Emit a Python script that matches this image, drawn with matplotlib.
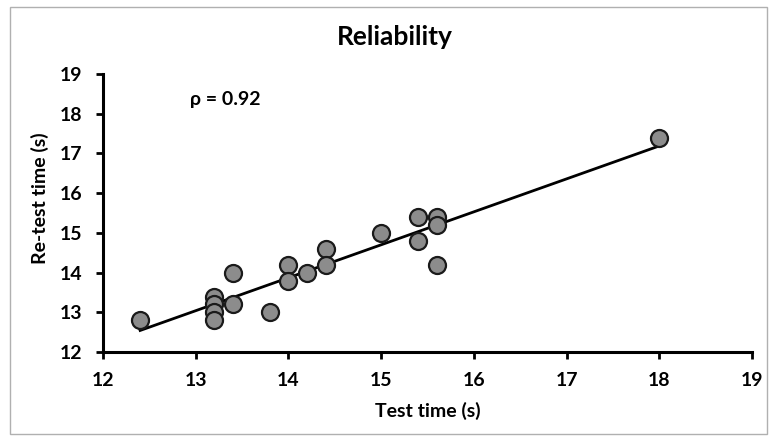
import numpy as np
import matplotlib
matplotlib.use("Agg")
import matplotlib.pyplot as plt
from matplotlib.patches import Rectangle

# test / re-test times (s)
test_time = [12.4, 13.2, 13.2, 13.2, 13.2, 13.4, 13.4, 13.8, 14.0, 14.0,
             14.2, 14.4, 14.4, 15.0, 15.4, 15.4, 15.6, 15.6, 15.6, 18.0]
retest_time = [12.8, 13.4, 13.2, 13.0, 12.8, 14.0, 13.2, 13.0, 14.2, 13.8,
               14.0, 14.6, 14.2, 15.0, 15.4, 14.8, 15.4, 15.2, 14.2, 17.4]
rho_text = "ρ = 0.92"
ticks = [12, 13, 14, 15, 16, 17, 18, 19]

plt.rcParams['font.family'] = ['Lato', 'DejaVu Sans']
plt.rcParams['font.weight'] = 'bold'

fig = plt.figure(figsize=(7.69, 4.38), dpi=100)
ax = fig.add_axes([0.134, 0.196, 0.844, 0.635])

# regression line
x = np.array(test_time)
y = np.array(retest_time)
b, a = np.polyfit(x, y, 1)
xl = np.array([x.min(), x.max()])
ax.plot(xl, a + b * xl, color='black', lw=2, zorder=2)

ax.scatter(x, y, s=150, facecolor='#8c8c8c', edgecolor='#1a1a1a',
           linewidth=1.6, zorder=3)

ax.set_xlim(12, 19)
ax.set_ylim(12, 19)
ax.set_xticks(ticks)
ax.set_yticks(ticks)
ax.tick_params(direction='out', length=5, width=2, labelsize=14)
ax.tick_params(axis='x', pad=9)
ax.tick_params(axis='y', pad=10)
for s in ['top', 'right']:
    ax.spines[s].set_visible(False)
for s in ['left', 'bottom']:
    ax.spines[s].set_linewidth(2.2)
for lab in ax.get_xticklabels() + ax.get_yticklabels():
    lab.set_fontweight('bold')

ax.set_xlabel("Test time (s)", fontsize=14, fontweight='bold')
ax.xaxis.set_label_coords(0.5, -0.18)
ax.set_ylabel("Re-test time (s)", fontsize=14, fontweight='bold', va='center')
ax.yaxis.set_label_coords(-0.097, 0.552)
fig.text(0.514, 0.915, "Reliability", fontsize=19, fontweight='bold',
         ha='center', va='center')
ax.text(12.94, 18.35, rho_text, fontsize=14, fontweight='bold', va='center')

# chart border
fig.patches.append(Rectangle((0.013, 0.01), 0.985, 0.975, transform=fig.transFigure,
                             fill=False, edgecolor='#b0b0b0', lw=1))

fig.savefig("out.png", dpi=100)
